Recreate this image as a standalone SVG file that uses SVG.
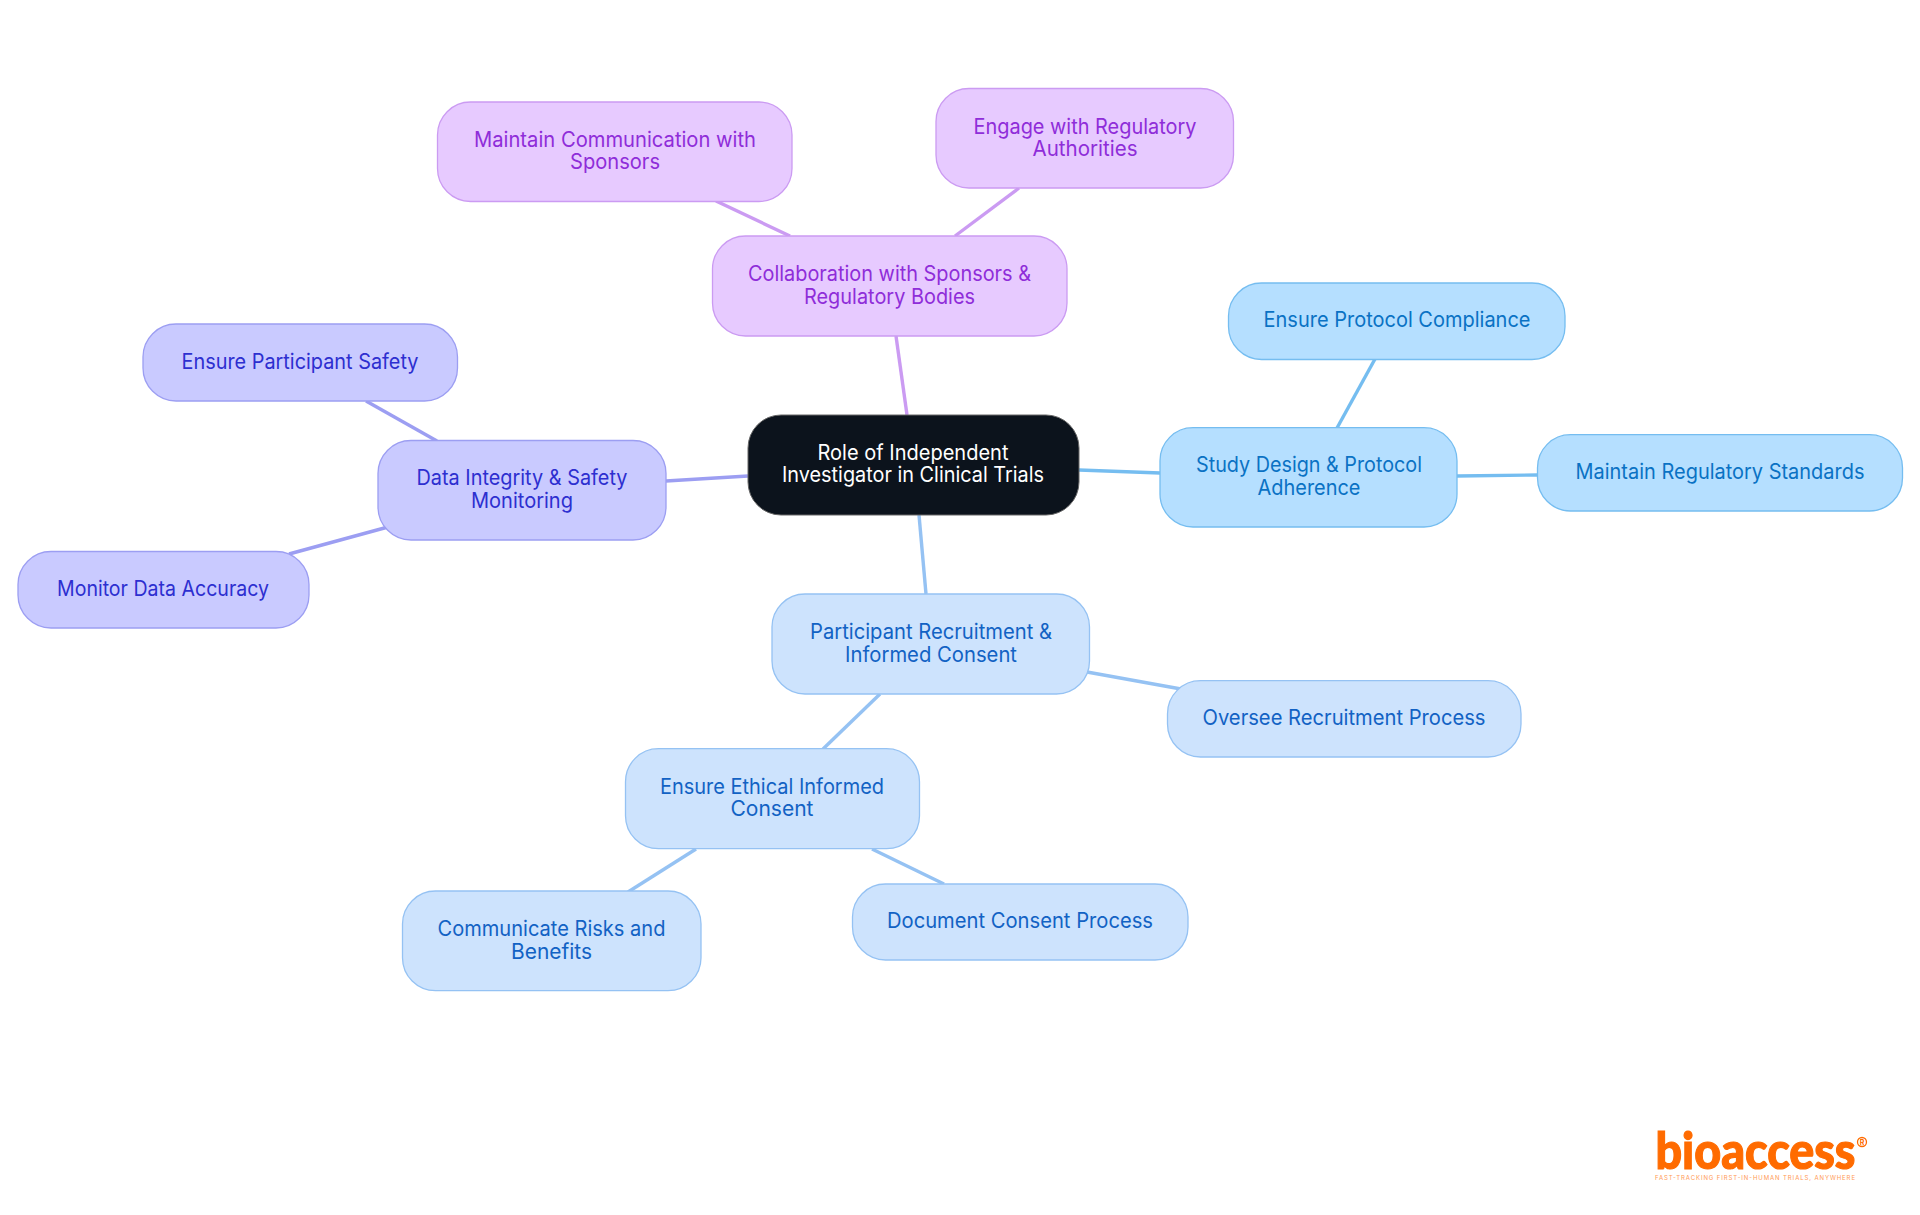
<svg xmlns="http://www.w3.org/2000/svg" width="1920" height="1215" viewBox="0 0 1920 1215">
<style>
text{font-family:"Inter","Noto Sans","Liberation Sans",sans-serif;font-size:21px;text-anchor:middle}
.n{stroke-width:1.3}
.p rect{fill:#e7caff;stroke:#cb9bf2}.p text{fill:#8f2dd9}
.i rect{fill:#c9caff;stroke:#9c9ef2}.i text{fill:#2d2fd0}
.s rect{fill:#b5dfff;stroke:#75bdf0}.s text{fill:#0a72c4}
.b rect{fill:#cde3fd;stroke:#95c2f3}.b text{fill:#1262c4}
#conn line{stroke-width:3.4;fill:none}
</style>
<rect width="1920" height="1215" fill="#fff"/>
<g id="conn">
<line x1="896" y1="336" x2="907" y2="415" stroke="#cb9bf2"/>
<line x1="716" y1="201" x2="790" y2="236" stroke="#cb9bf2"/>
<line x1="1019" y1="188" x2="955" y2="236" stroke="#cb9bf2"/>
<line x1="666" y1="481" x2="748" y2="476" stroke="#9c9ef2"/>
<line x1="366" y1="401" x2="437" y2="441" stroke="#9c9ef2"/>
<line x1="289" y1="554" x2="388" y2="527" stroke="#9c9ef2"/>
<line x1="1079" y1="470" x2="1160" y2="473" stroke="#75bdf0"/>
<line x1="1375" y1="359" x2="1337" y2="428" stroke="#75bdf0"/>
<line x1="1457" y1="476" x2="1537" y2="475" stroke="#75bdf0"/>
<line x1="919" y1="515" x2="926" y2="594" stroke="#95c2f3"/>
<line x1="1087" y1="672" x2="1181" y2="689" stroke="#95c2f3"/>
<line x1="880" y1="694" x2="823" y2="749" stroke="#95c2f3"/>
<line x1="696" y1="849" x2="628" y2="892" stroke="#95c2f3"/>
<line x1="872" y1="849" x2="944" y2="884" stroke="#95c2f3"/>
</g>
<g id="root"><rect x="748" y="415" width="331" height="100" rx="33" fill="#0c131c" stroke="#666"/><text fill="#fff" x="913" y="460" textLength="191" lengthAdjust="spacingAndGlyphs">Role of Independent</text><text fill="#fff" x="913" y="482" textLength="262" lengthAdjust="spacingAndGlyphs">Investigator in Clinical Trials</text></g>
<g id="collab" class="p"><rect class="n" x="712.5" y="236" width="354.5" height="100" rx="33"/><text x="889.5" y="281" textLength="283" lengthAdjust="spacingAndGlyphs">Collaboration with Sponsors &amp;</text><text x="889.5" y="304" textLength="171" lengthAdjust="spacingAndGlyphs">Regulatory Bodies</text></g>
<g id="comm" class="p"><rect class="n" x="437.5" y="102" width="354.5" height="99.5" rx="33"/><text x="615" y="147" textLength="282" lengthAdjust="spacingAndGlyphs">Maintain Communication with</text><text x="615" y="169" textLength="90" lengthAdjust="spacingAndGlyphs">Sponsors</text></g>
<g id="engage" class="p"><rect class="n" x="936" y="88.5" width="297.5" height="99.5" rx="33"/><text x="1085" y="134" textLength="223" lengthAdjust="spacingAndGlyphs">Engage with Regulatory</text><text x="1085" y="156" textLength="105" lengthAdjust="spacingAndGlyphs">Authorities</text></g>
<g id="data" class="i"><rect class="n" x="378" y="440.5" width="288" height="99.5" rx="33"/><text x="522" y="485" textLength="211" lengthAdjust="spacingAndGlyphs">Data Integrity &amp; Safety</text><text x="522" y="508" textLength="102" lengthAdjust="spacingAndGlyphs">Monitoring</text></g>
<g id="safety" class="i"><rect class="n" x="143" y="324" width="314.5" height="77" rx="33"/><text x="300" y="369" textLength="237" lengthAdjust="spacingAndGlyphs">Ensure Participant Safety</text></g>
<g id="accuracy" class="i"><rect class="n" x="18" y="551.5" width="291" height="76.5" rx="33"/><text x="163" y="596" textLength="212" lengthAdjust="spacingAndGlyphs">Monitor Data Accuracy</text></g>
<g id="study" class="s"><rect class="n" x="1160" y="427.7" width="297" height="99.3" rx="33"/><text x="1309" y="472" textLength="226" lengthAdjust="spacingAndGlyphs">Study Design &amp; Protocol</text><text x="1309" y="495" textLength="103" lengthAdjust="spacingAndGlyphs">Adherence</text></g>
<g id="protocol" class="s"><rect class="n" x="1228.5" y="283" width="336.5" height="76.5" rx="33"/><text x="1397" y="327" textLength="267" lengthAdjust="spacingAndGlyphs">Ensure Protocol Compliance</text></g>
<g id="standards" class="s"><rect class="n" x="1537.5" y="434.7" width="365" height="76.3" rx="33"/><text x="1720" y="479" textLength="289" lengthAdjust="spacingAndGlyphs">Maintain Regulatory Standards</text></g>
<g id="recruit" class="b"><rect class="n" x="772" y="594" width="317.5" height="100" rx="33"/><text x="931" y="639" textLength="242" lengthAdjust="spacingAndGlyphs">Participant Recruitment &amp;</text><text x="931" y="662" textLength="172" lengthAdjust="spacingAndGlyphs">Informed Consent</text></g>
<g id="oversee" class="b"><rect class="n" x="1167.5" y="680.7" width="353.5" height="76.3" rx="33"/><text x="1344" y="725" textLength="283" lengthAdjust="spacingAndGlyphs">Oversee Recruitment Process</text></g>
<g id="ethical" class="b"><rect class="n" x="625.5" y="748.7" width="294" height="100" rx="33"/><text x="772" y="794" textLength="224" lengthAdjust="spacingAndGlyphs">Ensure Ethical Informed</text><text x="772" y="816" textLength="83" lengthAdjust="spacingAndGlyphs">Consent</text></g>
<g id="risks" class="b"><rect class="n" x="402.5" y="891" width="298.5" height="99.7" rx="33"/><text x="551.5" y="936" textLength="228" lengthAdjust="spacingAndGlyphs">Communicate Risks and</text><text x="551.5" y="959" textLength="81" lengthAdjust="spacingAndGlyphs">Benefits</text></g>
<g id="document" class="b"><rect class="n" x="852.5" y="884" width="335.5" height="76" rx="33"/><text x="1020" y="928" textLength="266" lengthAdjust="spacingAndGlyphs">Document Consent Process</text></g>
<g id="logo">
<text transform="translate(1655.5 1168.5) scale(1 1.18)" x="0" y="0" style="font-family:Lato,'Open Sans',sans-serif;text-anchor:start;font-size:43px;font-weight:900;fill:#ff6b00;stroke:#ff6b00;stroke-width:1" textLength="200" lengthAdjust="spacingAndGlyphs">bioaccess</text>
<text x="1755" y="1180" style="font-size:6px;fill:#ff9a55" textLength="200" lengthAdjust="spacing">FAST-TRACKING FIRST-IN-HUMAN TRIALS, ANYWHERE</text>
<circle cx="1862" cy="1142" r="4.5" fill="none" stroke="#ff6b00" stroke-width="1.3"/>
<text x="1862" y="1145" style="font-size:7px;font-weight:700;fill:#ff6b00">R</text>
</g>
</svg>
